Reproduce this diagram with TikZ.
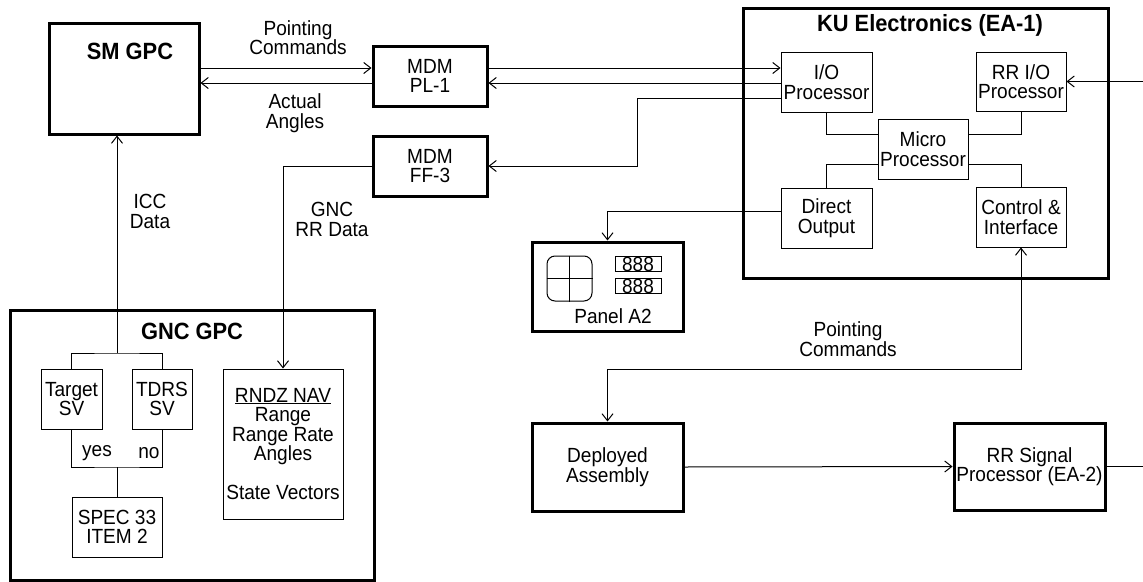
\documentclass[tikz,border=0pt]{standalone}
\usepackage{fontspec}
\setmainfont{Liberation Sans}[FakeStretch=0.93]
\usetikzlibrary{arrows.meta}
\newcommand{\txtsize}{\fontsize{20.5}{19.5}\selectfont}
\newcommand{\ttlsize}{\fontsize{23.5}{24}\selectfont\bfseries}
\begin{document}
\begin{tikzpicture}[x=1pt, y=-1pt, >={Straight Barb[length=7pt,width=11pt]},
    font=\txtsize, line width=1pt,
    heavybox/.style={draw, line width=3pt, inner sep=0pt, align=center},
    subbox/.style={draw, line width=1pt, inner sep=0pt, align=center},
    lbl/.style={align=center, inner sep=0pt},
    ttl/.style={font=\ttlsize, inner sep=0pt}]
    \useasboundingbox (0,0) rectangle (1143,581);

    % SM GPC and the two MDMs
    \node[heavybox, minimum width=150pt, minimum height=111pt] (smgpc) at (124,78.5) {};
    \node[ttl] (smgpctitle) at (130,51) {SM GPC};
    \node[heavybox, minimum width=114pt, minimum height=60pt] (mdmpl) at (430,76) {MDM\\PL-1};
    \node[heavybox, minimum width=114pt, minimum height=60pt] (mdmff) at (430,166) {MDM\\FF-3};

    % KU Electronics (EA-1)
    \node[heavybox, minimum width=365pt, minimum height=270pt] (ku) at (925.5,143) {};
    \node[ttl] (kutitle) at (930,25) {KU Electronics (EA-1)};
    \node[subbox, minimum width=91pt, minimum height=60pt] (io) at (826.5,82) {I/O\\Processor};
    \node[subbox, minimum width=90pt, minimum height=59pt] (rrio) at (1021,81.5) {RR I/O\\Processor};
    \node[subbox, minimum width=90pt, minimum height=60pt] (micro) at (923,149) {Micro\\Processor};
    \node[subbox, minimum width=91pt, minimum height=60pt] (direct) at (826.5,218) {Direct\\Output};
    \node[subbox, minimum width=90pt, minimum height=60pt] (ctrl) at (1021,217) {Control \&\\Interface};

    % Panel A2
    \node[heavybox, minimum width=151pt, minimum height=89pt] (panel) at (607.5,286.5) {};
    \node[lbl] (paneltitle) at (613,316) {Panel A2};
    \node[draw, rounded corners=8pt, minimum size=45pt, inner sep=0pt] (dial) at (569.5,278.5) {};
    \draw (dial.north) -- (dial.south);
    \draw (dial.west) -- (dial.east);
    \node[subbox, minimum width=46pt, minimum height=14pt] (disptop) at (638,264) {888};
    \node[subbox, minimum width=46pt, minimum height=14pt] (dispbot) at (638,286) {888};

    % Deployed assembly and signal processor
    \node[heavybox, minimum width=151pt, minimum height=88pt] (deployed) at (607.5,467) {Deployed\\Assembly};
    \node[heavybox, minimum width=151pt, minimum height=87pt] (rrsig) at (1029.5,466.5) {RR Signal\\Processor (EA-2)};

    % GNC GPC
    \node[heavybox, minimum width=364pt, minimum height=270pt] (gnc) at (192,445) {};
    \node[ttl] (gnctitle) at (192,331) {GNC GPC};
    \node[subbox, minimum width=61pt, minimum height=60pt] (target) at (71.5,399) {Target\\SV};
    \node[subbox, minimum width=60pt, minimum height=60pt] (tdrs) at (162,399) {TDRS\\SV};
    \node[subbox, minimum width=90pt, minimum height=60pt] (spec) at (117,527) {SPEC 33\\ITEM 2};
    \node[subbox, minimum width=120pt, minimum height=150pt] (rndz) at (283,444)
        {\underline{RNDZ NAV}\\Range\\Range Rate\\Angles\\[19.5pt]State Vectors};
    \node[lbl] (yes) at (97,453) {yes};
    \node[lbl] (no) at (149,453) {no};
    \coordinate (fork) at (117,353);
    \coordinate (merge) at (117,467);

    % Connector labels
    \node[lbl] (cmdtop) at (298,37.5) {Pointing\\Commands};
    \node[lbl] (angles) at (295,113) {Actual\\Angles};
    \node[lbl] (icc) at (150,211.5) {ICC\\Data};
    \node[lbl] (gncrr) at (332,219.5) {GNC\\RR Data};
    \node[lbl] (cmdbot) at (848,339) {Pointing\\Commands};

    % Connectors
    \draw[->] (smgpc.east |- 0,68) -- (mdmpl.west |- 0,68);
    \draw[->] (mdmpl.west |- 0,83) -- (smgpc.east |- 0,83);
    \draw[->] (mdmpl.east |- 0,68) -- (io.west |- 0,68);
    \draw[->] (io.west |- 0,83) -- (mdmpl.east |- 0,83);
    \draw[->] (io.west |- 0,98) -- (637,98) |- (mdmff.east);
    \draw[->] (mdmff.west) -| (rndz.north);
    \draw[->] (fork) -- (fork |- smgpc.south);
    \draw (target.north) |- (fork) -| (tdrs.north);
    \draw (target.south) |- (merge) -| (tdrs.south);
    \draw (merge) -- (spec.north);

    \draw (io.south) |- (micro.west |- 0,134);
    \draw (rrio.south) |- (micro.east |- 0,134);
    \draw (micro.west |- 0,164) -| (direct.north);
    \draw (micro.east |- 0,164) -| (ctrl.north);
    \draw[->] (direct.west |- 0,211) -| (panel.north);
    \draw[<-] (rrio.east) -- ++(80,0);
    \draw[<->] (ctrl.south) -- (ctrl.south |- 0,369) -| (deployed.north);
    \draw[->] (deployed.east) -- (rrsig.west);
    \draw (rrsig.east) -- ++(40,0);
\end{tikzpicture}
\end{document}
